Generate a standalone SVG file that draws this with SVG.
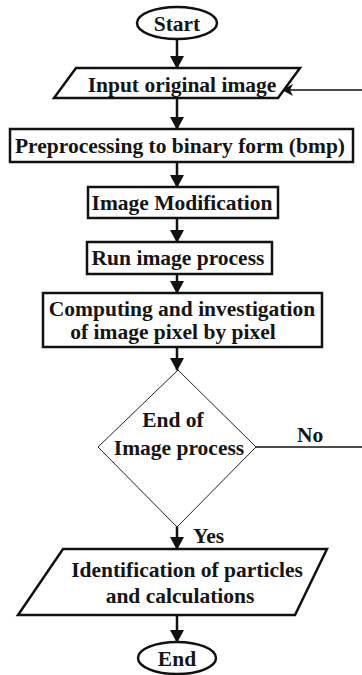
<svg xmlns="http://www.w3.org/2000/svg" width="362" height="675" viewBox="0 0 362 675">
<defs>
<marker id="ah" markerUnits="userSpaceOnUse" markerWidth="14" markerHeight="14" refX="12" refY="7" orient="auto">
<path d="M0,0 L13,7 L0,14 Z" fill="#111"/>
</marker>
<marker id="ah2" markerUnits="userSpaceOnUse" markerWidth="12" markerHeight="12" refX="11" refY="6" orient="auto">
<path d="M0,0 L11,6 L0,12 L3,6 Z" fill="#111"/>
</marker>
<style>
.t{font-family:"Liberation Serif","Times New Roman",serif;font-weight:bold;font-size:21.5px;fill:#151515;}
.m{text-anchor:middle;}
.box{fill:#fff;stroke:#111;stroke-width:2.5;}
.dia{fill:#fff;stroke:#222;stroke-width:1;}
.ln{fill:none;stroke:#111;stroke-width:2.5;}
.thin{fill:none;stroke:#111;stroke-width:1.5;}
</style>
</defs>
<rect width="362" height="675" fill="#fff"/>
<g id="connectors">
<line class="ln" x1="177" y1="39" x2="177" y2="68" marker-end="url(#ah)"/>
<line class="ln" x1="177" y1="98" x2="177" y2="129" marker-end="url(#ah)"/>
<line class="ln" x1="177" y1="162" x2="177" y2="187" marker-end="url(#ah)"/>
<line class="ln" x1="177" y1="218" x2="177" y2="242" marker-end="url(#ah)"/>
<line class="ln" x1="177" y1="274" x2="177" y2="293" marker-end="url(#ah)"/>
<line class="ln" x1="177" y1="347" x2="177" y2="370" marker-end="url(#ah)"/>
<line class="ln" x1="177" y1="527" x2="177" y2="549" marker-end="url(#ah)"/>
<line class="ln" x1="177" y1="615" x2="177" y2="642" marker-end="url(#ah)"/>
<line class="thin" x1="256" y1="447" x2="362" y2="447"/>
<line class="thin" x1="362" y1="90" x2="282" y2="90" marker-end="url(#ah2)"/>
<text class="t" x="297" y="442">No</text>
<text class="t" x="193" y="543">Yes</text>
</g>
<g id="start">
<ellipse class="box" cx="177" cy="23" rx="40" ry="16" stroke-width="2"/>
<text class="t m" x="177" y="31">Start</text>
</g>
<g id="input">
<polygon class="box" stroke-width="2" points="76,68 300,68 278,98 54,98"/>
<text class="t m" x="182" y="92">Input original image</text>
</g>
<g id="preprocessing">
<rect class="box" x="10" y="129" width="343" height="33"/>
<text class="t m" x="180" y="153">Preprocessing to binary form (bmp)</text>
</g>
<g id="modification">
<rect class="box" x="88" y="187" width="190" height="31"/>
<text class="t m" x="182" y="210">Image Modification</text>
</g>
<g id="run">
<rect class="box" x="87" y="242" width="185" height="32"/>
<text class="t m" x="178" y="265">Run image process</text>
</g>
<g id="computing">
<rect class="box" x="43" y="293" width="279" height="54"/>
<text class="t m" x="182" y="316">Computing and investigation</text>
<text class="t m" x="173" y="339">of image pixel by pixel</text>
</g>
<g id="decision">
<polygon class="dia" points="178,370 256,447 177,527 98,447"/>
<text class="t m" x="173" y="427">End of</text>
<text class="t m" x="179" y="455">Image process</text>
</g>
<g id="identification">
<polygon class="box" stroke-width="2" points="63,549 327,549 295,615 18,615"/>
<text class="t m" x="187" y="577">Identification of particles</text>
<text class="t m" x="180" y="603">and calculations</text>
</g>
<g id="end">
<ellipse class="box" cx="177" cy="658" rx="39" ry="16" stroke-width="2"/>
<text class="t m" x="177" y="666">End</text>
</g>
</svg>
